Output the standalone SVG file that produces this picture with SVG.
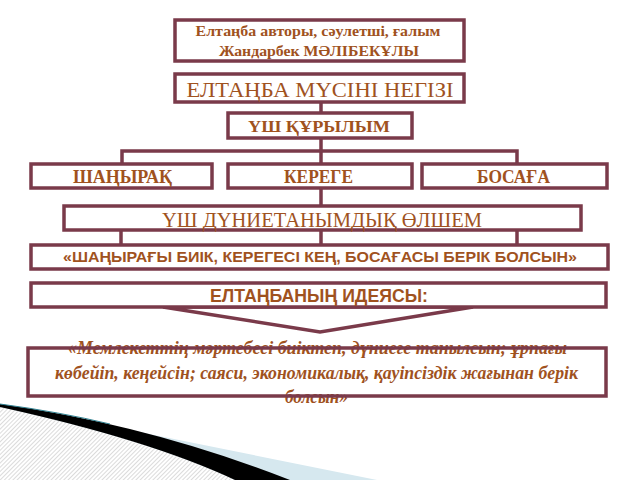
<svg xmlns="http://www.w3.org/2000/svg" width="640" height="480" viewBox="0 0 640 480">
<defs>
<style>
.box{fill:#ffffff;stroke:#7a3a4a;stroke-width:3.5;}
.boxn{fill:none;stroke:#7a3a4a;stroke-width:3.5;}
.con{fill:none;stroke:#7a3a4a;stroke-width:3.5;}
.t{fill:#a0521e;text-anchor:middle;}
.serif{font-family:"Liberation Serif","Times New Roman",serif;}
.sans{font-family:"Liberation Sans",Arial,sans-serif;font-weight:bold;}
.b{font-weight:bold;}
.bi{font-weight:bold;font-style:italic;}
</style>
<pattern id="hatch" width="3" height="3" patternUnits="userSpaceOnUse" patternTransform="rotate(45)">
<rect width="3" height="3" fill="#ffffff"/>
<line x1="0" y1="0" x2="0" y2="3" stroke="#b8b8b8" stroke-width="1"/>
</pattern>
</defs>
<rect width="640" height="480" fill="#ffffff"/>

<g id="decoration">
<path d="M0,404 L377,480 L0,480 Z" fill="#d6e8ef"/>
<path d="M0,407 Q150,440 235,480 L0,480 Z" fill="url(#hatch)"/>
<path d="M0,404 Q150,425 290,480 L235,480 Q150,440 0,407 Z" fill="#000000"/>
<path d="M0,404 Q60,412 110,424" fill="none" stroke="#2f7f8f" stroke-width="1"/>
</g>

<g id="connectors">
<line class="con" x1="321" y1="102" x2="321" y2="113"/>
<line class="con" x1="321" y1="138" x2="321" y2="164"/>
<polyline class="con" points="122,164 122,151 517,151 517,164"/>
<line class="con" x1="321" y1="188" x2="321" y2="206"/>
<line class="con" x1="121" y1="230" x2="121" y2="245"/>
<line class="con" x1="321" y1="230" x2="321" y2="245"/>
<line class="con" x1="517" y1="230" x2="517" y2="245"/>
<polygon class="box" points="163,307 320,332 473,307"/>
</g>

<g id="author">
<rect class="box" x="175" y="20" width="289" height="41"/>
<text class="t serif b" x="318" y="36" font-size="15" textLength="245" lengthAdjust="spacingAndGlyphs">Елтаңба авторы, сәулетші, ғалым</text>
<text class="t serif b" x="319" y="56" font-size="15" textLength="200" lengthAdjust="spacingAndGlyphs">Жандарбек МӘЛІБЕКҰЛЫ</text>
</g>

<g id="basis">
<rect class="box" x="175" y="74" width="289" height="28"/>
<text class="t serif" x="320" y="97" font-size="22" textLength="267" lengthAdjust="spacingAndGlyphs">ЕЛТАҢБА МҮСІНІ НЕГІЗІ</text>
</g>

<g id="three-structure">
<rect class="box" x="228" y="113" width="184" height="25"/>
<text class="t serif b" x="319" y="132" font-size="17" textLength="142" lengthAdjust="spacingAndGlyphs">ҮШ ҚҰРЫЛЫМ</text>
</g>

<g id="shanyrak">
<rect class="box" x="31" y="164" width="181" height="24"/>
<text class="t serif b" x="122.5" y="183" font-size="18" textLength="99" lengthAdjust="spacingAndGlyphs">ШАҢЫРАҚ</text>
</g>

<g id="kerege">
<rect class="box" x="228" y="164" width="184" height="24"/>
<text class="t serif b" x="318.5" y="183" font-size="18" textLength="69" lengthAdjust="spacingAndGlyphs">КЕРЕГЕ</text>
</g>

<g id="bosaga">
<rect class="box" x="422" y="164" width="185" height="24"/>
<text class="t serif b" x="513.5" y="183" font-size="18" textLength="73" lengthAdjust="spacingAndGlyphs">БОСАҒА</text>
</g>

<g id="worldview">
<rect class="box" x="64" y="206" width="517" height="24"/>
<text class="t serif" x="322" y="227" font-size="21" textLength="320" lengthAdjust="spacingAndGlyphs">ҮШ ДҮНИЕТАНЫМДЫҚ ӨЛШЕМ</text>
</g>

<g id="motto">
<rect class="box" x="31" y="245" width="577" height="24"/>
<text class="t sans" x="320" y="262" font-size="14" textLength="514" lengthAdjust="spacingAndGlyphs">«ШАҢЫРАҒЫ БИІК, КЕРЕГЕСІ КЕҢ, БОСАҒАСЫ БЕРІК БОЛСЫН»</text>
</g>

<g id="idea">
<rect class="box" x="31" y="283" width="575" height="24"/>
<text class="t sans" x="319" y="302" font-size="18" textLength="218" lengthAdjust="spacingAndGlyphs">ЕЛТАҢБАНЫҢ ИДЕЯСЫ:</text>
</g>

<g id="idea-text">
<text class="t serif bi" x="317.5" y="354" font-size="18" textLength="499" lengthAdjust="spacingAndGlyphs">«Мемлекеттің мәртебесі биіктеп, дүниеге танылсын; ұрпағы</text>
<text class="t serif bi" x="316.5" y="379" font-size="18" textLength="523" lengthAdjust="spacingAndGlyphs">көбейіп, кеңейсін; саяси, экономикалық, қауіпсіздік жағынан берік</text>
<text class="t serif bi" x="316.5" y="403" font-size="18" textLength="63" lengthAdjust="spacingAndGlyphs">болсын»</text>
<rect class="boxn" x="28" y="348" width="578" height="48"/>
</g>
</svg>
